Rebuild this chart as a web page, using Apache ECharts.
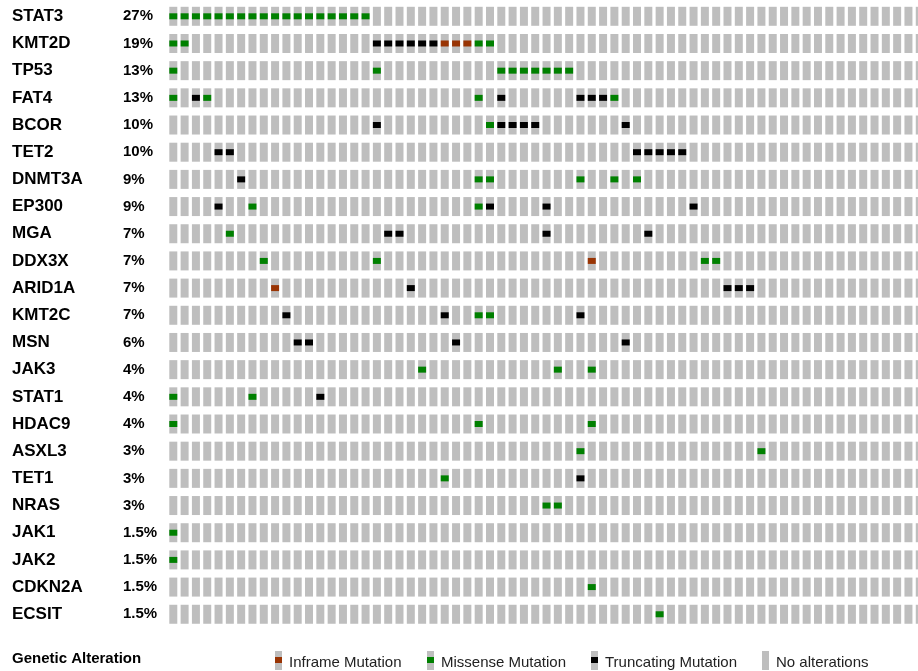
<!DOCTYPE html>
<html>
<head>
<meta charset="utf-8">
<script src="https://cdn.jsdelivr.net/npm/echarts@6/dist/echarts.min.js"></script>
<style>
  html, body { margin: 0; padding: 0; background: #fff; overflow: hidden; }
  #chart { width: 918px; height: 671px; }
</style>
</head>
<body>
<div id="chart"></div>
<script>
// Oncoprint: one row per gene, one column per sample.
const genes = ['STAT3', 'KMT2D', 'TP53', 'FAT4', 'BCOR', 'TET2', 'DNMT3A', 'EP300', 'MGA',
  'DDX3X', 'ARID1A', 'KMT2C', 'MSN', 'JAK3', 'STAT1', 'HDAC9', 'ASXL3', 'TET1', 'NRAS',
  'JAK1', 'JAK2', 'CDKN2A', 'ECSIT'];
const pctLabels = ['27%', '19%', '13%', '13%', '10%', '10%', '9%', '9%', '7%', '7%', '7%',
  '7%', '6%', '4%', '4%', '4%', '3%', '3%', '3%', '1.5%', '1.5%', '1.5%', '1.5%'];
const sampleCount = 67;

// Altered sample columns (0-based) per gene and alteration type
const inframe = {
  KMT2D: [24, 25, 26],
  DDX3X: [37],
  ARID1A: [9]
};
const missense = {
  STAT3: [0, 1, 2, 3, 4, 5, 6, 7, 8, 9, 10, 11, 12, 13, 14, 15, 16, 17],
  KMT2D: [0, 1, 27, 28],
  TP53: [0, 18, 29, 30, 31, 32, 33, 34, 35],
  FAT4: [0, 3, 27, 39],
  BCOR: [28],
  DNMT3A: [27, 28, 36, 39, 41],
  EP300: [7, 27],
  MGA: [5],
  DDX3X: [8, 18, 47, 48],
  KMT2C: [27, 28],
  JAK3: [22, 34, 37],
  STAT1: [0, 7],
  HDAC9: [0, 27, 37],
  ASXL3: [36, 52],
  TET1: [24],
  NRAS: [33, 34],
  JAK1: [0],
  JAK2: [0],
  CDKN2A: [37],
  ECSIT: [43]
};
const truncating = {
  KMT2D: [18, 19, 20, 21, 22, 23],
  FAT4: [2, 29, 36, 37, 38],
  BCOR: [18, 29, 30, 31, 32, 40],
  TET2: [4, 5, 41, 42, 43, 44, 45],
  DNMT3A: [6],
  EP300: [4, 28, 33, 46],
  MGA: [19, 20, 33, 42],
  ARID1A: [21, 49, 50, 51],
  KMT2C: [10, 24, 36],
  MSN: [11, 12, 25, 40],
  STAT1: [13],
  TET1: [36]
};

const COLORS = {
  none: '#bebebe',
  inframe: '#993404',
  missense: '#008000',
  truncating: '#000000'
};
const FONT = "'Liberation Sans', Arial, Helvetica, sans-serif";

const samples = [];
for (let i = 0; i < sampleCount; i++) samples.push('S' + (i + 1));

function toPoints(map) {
  const pts = [];
  Object.keys(map).forEach(g => {
    const row = genes.indexOf(g);
    map[g].forEach(c => pts.push([c, row]));
  });
  return pts;
}

const background = [];
genes.forEach((g, r) => { for (let c = 0; c < sampleCount; c++) background.push([c, r]); });

function cellRenderer(cellW, cellH) {
  return function (params, api) {
    const p = api.coord([api.value(0), api.value(1)]);
    return {
      type: 'rect',
      shape: { x: p[0] - cellW / 2, y: p[1] - cellH / 2, width: cellW, height: cellH },
      style: { fill: api.visual('color') }
    };
  };
}

const COL_W = 11.31;
const ROW_H = 27.18;
const GRID_LEFT = 173.3 - COL_W / 2;
const chart = echarts.init(document.getElementById('chart'), null, { renderer: 'canvas' });

const legendItems = [
  { x: 275, label: 'Inframe Mutation', color: COLORS.inframe },
  { x: 427, label: 'Missense Mutation', color: COLORS.missense },
  { x: 591, label: 'Truncating Mutation', color: COLORS.truncating },
  { x: 762, label: 'No alterations', color: null }
];
const legendGraphics = [{
  type: 'text', x: 12, y: 659,
  style: { text: 'Genetic Alteration', font: 'bold 15px ' + FONT, fill: '#000', verticalAlign: 'middle' }
}];
legendItems.forEach(it => {
  legendGraphics.push({ type: 'rect', shape: { x: it.x, y: 651, width: 7, height: 19 }, style: { fill: COLORS.none } });
  if (it.color) {
    legendGraphics.push({ type: 'rect', shape: { x: it.x, y: 657, width: 7, height: 6 }, style: { fill: it.color } });
  }
  legendGraphics.push({
    type: 'text', x: it.x + 14, y: 663,
    style: { text: it.label, font: '15px ' + FONT, fill: '#222', verticalAlign: 'middle' }
  });
});

chart.setOption({
  animation: false,
  backgroundColor: '#fff',
  grid: {
    left: GRID_LEFT, top: 16.3 - ROW_H / 2,
    width: sampleCount * COL_W, height: genes.length * ROW_H,
    outerBoundsMode: 'none', containLabel: false
  },
  xAxis: {
    type: 'category', data: samples, show: false
  },
  yAxis: [
    {
      type: 'category', data: genes, inverse: true, position: 'left',
      axisLine: { show: false }, axisTick: { show: false }, splitLine: { show: false },
      axisLabel: {
        align: 'left', margin: GRID_LEFT - 12,
        fontFamily: FONT, fontWeight: 'bold', fontSize: 17, color: '#000'
      }
    },
    {
      type: 'category', data: genes, inverse: true, position: 'left',
      axisLine: { show: false }, axisTick: { show: false }, splitLine: { show: false },
      axisLabel: {
        align: 'left', margin: GRID_LEFT - 123,
        fontFamily: FONT, fontWeight: 'bold', fontSize: 15, color: '#000',
        formatter: (v, i) => pctLabels[i]
      }
    }
  ],
  series: [
    { type: 'custom', name: 'No alterations', data: background, itemStyle: { color: COLORS.none },
      renderItem: cellRenderer(8, 19), silent: true },
    { type: 'custom', name: 'Inframe Mutation', data: toPoints(inframe), itemStyle: { color: COLORS.inframe },
      renderItem: cellRenderer(8, 6) },
    { type: 'custom', name: 'Missense Mutation', data: toPoints(missense), itemStyle: { color: COLORS.missense },
      renderItem: cellRenderer(8, 6) },
    { type: 'custom', name: 'Truncating Mutation', data: toPoints(truncating), itemStyle: { color: COLORS.truncating },
      renderItem: cellRenderer(8, 6) }
  ],
  graphic: legendGraphics
});
</script>
</body>
</html>
